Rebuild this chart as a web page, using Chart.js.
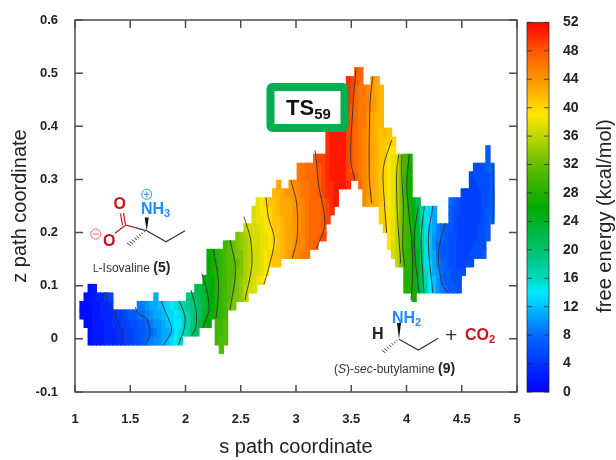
<!DOCTYPE html>
<html>
<head>
<meta charset="utf-8">
<title>Free energy surface</title>
<script src="https://cdn.jsdelivr.net/npm/chart.js@4"></script>
<style>
  html, body { margin: 0; padding: 0; background: #fff; }
  #wrap { position: relative; width: 616px; height: 460px; overflow: hidden; font-family: "Liberation Sans", Arial, sans-serif; filter: blur(0.45px); }
  #wrap canvas { position: absolute; top: 0; }
  #chart-main { left: 0; }
  #chart-bar { left: 516px; }
  #notes { position: absolute; left: 0; top: 0; }
  #notes text { font-family: "Liberation Sans", Arial, sans-serif; }
</style>
</head>
<body>
<div id="wrap">
  <canvas id="chart-main" width="616" height="460"></canvas>
  <canvas id="chart-bar" width="100" height="460"></canvas>
  <svg id="notes" width="616" height="460" viewBox="0 0 616 460">
    <!-- colour bar title -->
    <text transform="translate(611 216) rotate(-90)" text-anchor="middle" font-size="20" fill="#222">free energy (kcal/mol)</text>

    <!-- TS box -->
    <rect x="270.5" y="87" width="74" height="41" rx="2" fill="#fff" stroke="#00b050" stroke-width="8"/>
    <text x="286" y="115" font-size="22" font-weight="bold" fill="#111">TS<tspan font-size="15" dy="4">59</tspan></text>

    <!-- L-isovaline -->
    <g fill="none" stroke="#333" stroke-width="1.2">
      <path d="M136 227.8 L146.7 230.7 L166 241.7 L185 230.7"/>
    </g>
    <g fill="none" stroke="#c8141e" stroke-width="1.2">
      <path d="M125.7 225 L136 227.8 M125.7 225 L115 233.3 M123.5 213 L125.5 224.5 M120.5 213.5 L122.5 225"/>
    </g>
    <path d="M146.7 230.7 L144.7 217.5 L148.7 217.5 Z" fill="#111"/>
    <path d="M145 232 L143.7 231 M143 234 L141.3 232.7 M141 236 L138.9 234.4 M139 238 L136.5 236.1 M137 240 L134.1 237.9 M135 242 L131.7 239.6 M133 244 L129.3 241.3 M131 246 L127 243" stroke="#333" stroke-width="0.9" fill="none"/>
    <text x="113.5" y="209" font-size="16" font-weight="bold" fill="#c8141e">O</text>
    <text x="103" y="246" font-size="16" font-weight="bold" fill="#c8141e">O</text>
    <circle cx="95.7" cy="234" r="5" fill="none" stroke="#e36a70" stroke-width="1"/>
    <path d="M92.7 234 H98.7" stroke="#e36a70" stroke-width="1"/>
    <circle cx="146.7" cy="194.3" r="5" fill="none" stroke="#2e94f0" stroke-width="1"/>
    <path d="M143.7 194.3 H149.7 M146.7 191.3 V197.3" stroke="#2e94f0" stroke-width="1"/>
    <text x="141" y="214" font-size="16" font-weight="bold" fill="#1e8cf5">NH<tspan font-size="11" dy="3">3</tspan></text>
    <text x="93" y="272" font-size="12" fill="#333"><tspan font-size="10">L</tspan>-Isovaline <tspan font-size="14" font-weight="bold" fill="#222">(5)</tspan></text>

    <!-- sec-butylamine -->
    <path d="M399 339.3 L418.3 350 L438.3 338.3" fill="none" stroke="#333" stroke-width="1.2"/>
    <path d="M399 339.3 L397 323 L401 323 Z" fill="#111"/>
    <path d="M397.5 341 L396.3 340 M395.5 343 L393.9 341.7 M393.5 345 L391.5 343.4 M391.5 347 L389.1 345.1 M389.5 349 L386.7 346.8 M387.5 351 L384.3 348.5 M385.5 353 L381.9 350.2" stroke="#333" stroke-width="0.9" fill="none"/>
    <text x="372" y="339" font-size="16" font-weight="bold" fill="#222">H</text>
    <text x="392" y="323" font-size="16" font-weight="bold" fill="#1e8cf5">NH<tspan font-size="11" dy="3">2</tspan></text>
    <text x="445" y="342" font-size="21" fill="#333">+</text>
    <text x="465" y="340" font-size="16" font-weight="bold" fill="#c8141e">CO<tspan font-size="11" dy="3">2</tspan></text>
    <text x="334" y="373" font-size="12" fill="#333">(<tspan font-style="italic">S</tspan>)-<tspan font-style="italic">sec</tspan>-butylamine <tspan font-size="14" font-weight="bold" fill="#222">(9)</tspan></text>
  </svg>
</div>

<script>
// axis ticks
const sTicks = [1, 1.5, 2, 2.5, 3, 3.5, 4, 4.5, 5];
const zTicks = [-0.1, 0, 0.1, 0.2, 0.3, 0.4, 0.5, 0.6];
const energyTicks = [0, 4, 8, 12, 16, 20, 24, 28, 32, 36, 40, 44, 48, 52];

// s coordinate of each column of the map
const columnS = [
  1.064, 1.101, 1.138, 1.175, 1.212, 1.249, 1.286, 1.324, 1.361, 1.398,
  1.435, 1.472, 1.509, 1.546, 1.583, 1.620, 1.657, 1.695, 1.732, 1.769,
  1.806, 1.843, 1.880, 1.917, 1.954, 1.991, 2.028, 2.066, 2.103, 2.140,
  2.177, 2.214, 2.251, 2.288, 2.325, 2.362, 2.399, 2.437, 2.474, 2.511,
  2.548, 2.585, 2.622, 2.659, 2.696, 2.733, 2.770, 2.808, 2.845, 2.882,
  2.919, 2.956, 2.993, 3.030, 3.067, 3.104, 3.141, 3.179, 3.216, 3.253,
  3.290, 3.327, 3.364, 3.401, 3.438, 3.475, 3.512, 3.550, 3.587, 3.624,
  3.661, 3.698, 3.735, 3.772, 3.809, 3.846, 3.883, 3.921, 3.958, 3.995,
  4.032, 4.069, 4.106, 4.143, 4.180, 4.217, 4.254, 4.292, 4.329, 4.366,
  4.403, 4.440, 4.477, 4.514, 4.551, 4.588, 4.625, 4.663, 4.700, 4.737,
  4.774
];

// z edges of the map rows
const rowEdges = [
  -0.028, -0.012, 0.005, 0.021, 0.037, 0.054, 0.070, 0.086, 0.102, 0.119,
  0.135, 0.151, 0.168, 0.184, 0.200, 0.216, 0.233, 0.249, 0.265, 0.282,
  0.298, 0.314, 0.330, 0.347, 0.363, 0.379, 0.396, 0.412, 0.428, 0.444,
  0.461, 0.477, 0.493, 0.510
];

// index in rowEdges where each column starts
const columnFirstRow = [
  4, 3, 1, 1, 1, 1, 1, 1, 1, 1,
  1, 1, 1, 1, 1, 1, 1, 1, 1, 1,
  1, 1, 1, 1, 1, 2, 2, 2, 2, 3,
  3, 3, 4, 1, 0, 1, 5, 5, 6, 6,
  6, 7, 7, 8, 8, 9, 10, 10, 10, 11,
  11, 11, 11, 11, 11, 11, 12, 12, 13, 13,
  15, 16, 17, 19, 19, 19, 20, 20, 19, 17,
  17, 17, 17, 15, 14, 12, 11, 10, 10, 7,
  7, 6, 7, 7, 7, 7, 7, 7, 7, 7,
  7, 7, 7, 9, 10, 10, 11, 11, 11, 13,
  15
];

// free energy of each cell, column by column, from the lowest row up
const columnEnergy = [
  [1,1], [1,1,1,1], [1,1,1,1,1,1,1], [2,2,2,2,2,2,2],
  [2,2,2,2,2,3], [2,2,2,3,3,3], [3,3,3,3,3,4], [3,3,3,3,4,5],
  [3,3,4,4], [4,4,4,5], [4,4,5,5], [5,5,5,6], [5,5,6,7], [6,6,6,7],
  [6,6,7,8,9], [7,7,7,8,9], [8,7.5,8,9,10], [9,8,9,10,11],
  [10,9,10,11,11,11], [10,10,10,11,12], [11,11,11,12,12], [12,11,12,13,13],
  [13,12,13,13,14], [14,14,14,14,15], [16,15,14,15,16], [16,16,16,17],
  [17,17,17,18,19], [20,19,19,19,20], [21,20,20,20,21,22], [23,21,21,22,22],
  [25,24,23,23,24,25], [26,25,24,25,25,25,26,26,26], [27,26,26,26,26,27,27,27],
  [30,30,30,28,28,28,28,28,28,28,28],
  [31,31,30,30,29,29,29,29,29,29,29,29],
  [31,31,31,30,30,30,30,30,30,30,30,30],
  [32,31,31,31,31,31,31,31], [33,33,32,32,31,31,32,32],
  [33,33,33,33,32,33,33,33], [34,34,34,33,33,33,34,34],
  [36,36,35,35,35,35,35,35,36], [37,36,36,36,36,36,36,37],
  [37,37,37,37,37,37,37,37,37,37], [38,37,37,37,37,37,37,38,38,38],
  [39,38,38,38,38,38,38,38,39,39], [39,39,39,38,38,39,39,39,40],
  [40,40,39,39,39,40,40,41], [41,41,40,40,41,41,41,41,42],
  [41,41,41,41,41,41,42,42,42,43], [42,42,42,42,42,43,43,43],
  [43,43,43,43,43,43,43,44], [44,43,43,43,43,43,43,44,44],
  [45,44,44,44,44,44,44,44,45], [45,45,45,44,44,44,45,45,45,46,46],
  [46,45,45,45,45,45,45,46,46,46,46], [46,46,46,46,46,46,46,46,46,47,47],
  [47,47,47,47,47,47,47,47,47,47], [48,47,47,47,47,47,47,47,47,47,48],
  [48,47,47,47,47,48,48,48,48,49], [49,48,48,48,48,49,49,49,49,49],
  [49,49,49,50,50,50,50,50,50,50,50,50], [50,50,50,50,51,51,51,51,51,51,51],
  [51,51,51,51,51,51,51,51,51,51], [51,51,51,51,51,51,51,51],
  [51,51,51,51,51,51,51,51],
  [50,49,49,49,49,49,49,49,49,50,50,50,50],
  [49,48,48,48,48,48,48,48,48,49,49,49],
  [48,47,47,47,47,47,47,47,47,47,47,48,48],
  [47,46,46,46,46,46,46,46,46,46,46,46,47,47],
  [45,45,45,45,45,45,45,45,45,46,46,46,46,46],
  [43,44,44,44,44,44,44,44,44,44,44,45,45,45],
  [43,43,43,43,43,43,43,43,43,43,43,44,44,44,44],
  [42,42,42,42,42,42,42,42,42,42,42,43,43,43,43],
  [40,40,41,41,41,41,41,41,41,41,41,42,42,42,42,42],
  [41,41,40,40,40,40,40,40,41,41,41,42],
  [39,39,39,39,39,39,39,39,39,39,39,39,41,41],
  [37,37,38,38,38,38,38,38,38,38,38,38,39,40],
  [36,36,36,36,36,36,36,36,36,36,36,37,37],
  [33,33,33,33,33,33,33,33,33,33,33,33,33],
  [28,28,28,29,29,30,30,30,30,30,30,29,29,29,30,30],
  [28,28,28,29,29,29,29,29,28,28,27,27,27,27,27,28],
  [27,27,27,27,26,26,26,26,25,25,25,25],
  [24,24,24,24,24,23,23,23,22,22,22],
  [21,21,21,20,20,19,18,18,17,17],
  [17,17,16,15,15,15,15,15,15,15],
  [14,14,13,13,12,12,12,12,13,13],
  [12,12,11,11,11,10,10,11,11,11],
  [10,10,10,9,8,8,9,9], [9,8,8,8,7,7,8,8], [8,7,7,7,7,7,7,7],
  [7,7,7,6,6,6,6,7,7,7,8], [7,6,6,6,6,6,6,6,6,6,7], [6,6,6,5,5,5,5,5,5,6,6],
  [6,5,5,5,5,5,5,5,5,5], [6,5,5,5,5,5,5,5,5], [6,6,5,5,5,5,5,5,5,5,5],
  [6,6,5,5,5,5,5,5,5,6,6], [6,6,6,6,5,5,5,5,6,6,6], [7,6,6,6,6,6,6,6,6,6,6],
  [7,7,7,7,6,6,6,6,7,7,7], [8,7,7,7,7,7,8]
];

// contour lines as [s, z] points
const contourLines = [
  [[1.281,0.088],[1.296,0.070],[1.347,0.055],[1.392,0.030],[1.428,0.011],[1.416,-0.011]],
  [[1.543,0.060],[1.573,0.048],[1.654,0.036],[1.679,0.008],[1.633,-0.011]],
  [[1.778,0.071],[1.824,0.048],[1.875,0.017],[1.805,-0.011]],
  [[1.944,0.071],[1.995,0.042],[1.986,0.017],[1.935,-0.011]],
  [[2.050,0.092],[2.095,0.055],[2.095,0.023],[2.056,0.006]],
  [[2.147,0.123],[2.192,0.092],[2.213,0.055],[2.156,0.021]],
  [[2.252,0.169],[2.297,0.111],[2.294,0.073],[2.276,0.039]],
  [[2.403,0.186],[2.454,0.130],[2.403,0.055]],
  [[2.529,0.230],[2.590,0.186],[2.599,0.136],[2.538,0.073]],
  [[2.729,0.266],[2.749,0.230],[2.804,0.186],[2.749,0.130],[2.710,0.103]],
  [[2.952,0.299],[3.006,0.255],[3.012,0.192],[2.967,0.152]],
  [[3.172,0.355],[3.187,0.330],[3.202,0.293],[3.262,0.217],[3.187,0.170]],
  [[3.543,0.507],[3.513,0.430],[3.495,0.336],[3.534,0.298]],
  [[3.694,0.493],[3.670,0.443],[3.663,0.305],[3.685,0.255]],
  [[3.866,0.374],[3.790,0.321],[3.805,0.242],[3.821,0.199]],
  [[3.929,0.346],[3.911,0.311],[3.917,0.236],[3.948,0.142]],
  [[3.959,0.346],[3.957,0.311],[3.971,0.249],[3.966,0.167],[3.986,0.136]],
  [[4.025,0.347],[4.002,0.293],[4.016,0.249],[4.047,0.186],[4.056,0.123],[4.041,0.073]],
  [[4.107,0.249],[4.068,0.186],[4.107,0.098],[4.116,0.087]],
  [[4.161,0.249],[4.131,0.186],[4.147,0.123],[4.158,0.087]],
  [[4.237,0.249],[4.197,0.186],[4.237,0.087]],
  [[4.348,0.217],[4.288,0.161],[4.319,0.105],[4.373,0.087]],
  [[4.780,0.330],[4.792,0.261],[4.780,0.217]]
];

// palette stops: energy, r, g, b
const paletteStops = [
  [0, 0, 0, 255],
  [4, 0, 50, 255],
  [8, 0, 105, 255],
  [12, 0, 190, 255],
  [14, 0, 235, 255],
  [16, 0, 215, 190],
  [20, 0, 195, 110],
  [26, 0, 170, 0],
  [32, 100, 190, 0],
  [36, 190, 215, 0],
  [39, 255, 230, 0],
  [44, 255, 150, 0],
  [48, 255, 90, 0],
  [52, 255, 0, 0]
];

function energyColor(e) {
  let i = 0;
  while (i < paletteStops.length - 2 && e > paletteStops[i + 1][0]) i++;
  const a = paletteStops[i], b = paletteStops[i + 1];
  const t = (e - a[0]) / (b[0] - a[0]);
  const c = [1, 2, 3].map(j => Math.round(a[j] + (b[j] - a[j]) * t));
  return 'rgb(' + c.join(',') + ')';
}

const FONT = '"Liberation Sans", Arial, sans-serif';
const FRAME = '#4d4d4d';

function buildCells() {
  const cells = [], colors = [];
  columnS.forEach((s, i) => {
    columnEnergy[i].forEach((e, j) => {
      const lo = rowEdges[columnFirstRow[i] + j];
      const hi = rowEdges[columnFirstRow[i] + j + 1];
      cells.push({ x: s, y: [lo, hi + 0.0008] });
      colors.push(energyColor(e));
    });
  });
  return { cells, colors };
}

// gnuplot style frame, ticks point into the plot
const framePlugin = {
  id: 'frame',
  afterDatasetsDraw(chart) {
    const { ctx, chartArea: a, scales } = chart;
    ctx.save();
    ctx.strokeStyle = FRAME;
    ctx.lineWidth = 1.5;
    ctx.strokeRect(a.left, a.top, a.right - a.left, a.bottom - a.top);
    ctx.beginPath();
    scales.x.ticks.forEach(t => {
      const x = scales.x.getPixelForValue(t.value);
      ctx.moveTo(x, a.bottom); ctx.lineTo(x, a.bottom - 7);
      ctx.moveTo(x, a.top); ctx.lineTo(x, a.top + 8);
    });
    scales.y.ticks.forEach(t => {
      const y = scales.y.getPixelForValue(t.value);
      ctx.moveTo(a.left, y); ctx.lineTo(a.left + 8, y);
      ctx.moveTo(a.right, y); ctx.lineTo(a.right - 8, y);
    });
    ctx.stroke();
    ctx.restore();
  }
};

const barFramePlugin = {
  id: 'barFrame',
  afterDatasetsDraw(chart) {
    const { ctx, chartArea: a, scales } = chart;
    ctx.save();
    ctx.strokeStyle = 'rgba(40,40,40,0.75)';
    ctx.lineWidth = 1;
    ctx.strokeRect(a.left, a.top, a.right - a.left, a.bottom - a.top);
    ctx.beginPath();
    scales.y.ticks.forEach(t => {
      const y = scales.y.getPixelForValue(t.value);
      ctx.moveTo(a.left, y); ctx.lineTo(a.left + 5, y);
      ctx.moveTo(a.right, y); ctx.lineTo(a.right - 5, y);
    });
    ctx.stroke();
    ctx.restore();
  }
};

function renderMain() {
  const { cells, colors } = buildCells();
  const lines = contourLines.map(pts => ({
    type: 'line',
    data: pts.map(p => ({ x: p[0], y: p[1] })),
    borderColor: '#333',
    borderWidth: 0.9,
    pointRadius: 0,
    tension: 0.3,
    fill: false,
    order: 0
  }));

  new Chart(document.getElementById('chart-main'), {
    type: 'bar',
    data: {
      datasets: [{
        data: cells,
        backgroundColor: colors,
        borderWidth: 0,
        barThickness: 4.7,
        order: 1
      }, ...lines]
    },
    options: {
      responsive: false,
      animation: false,
      layout: { padding: { top: 20, right: 99, left: 0, bottom: 0 } },
      plugins: { legend: { display: false }, tooltip: { enabled: false } },
      scales: {
        x: {
          type: 'linear',
          offset: false,
          min: 1, max: 5,
          afterBuildTicks(scale) { scale.ticks = sTicks.map(v => ({ value: v })); },
          afterFit(scale) { scale.height = 68; },
          grid: { display: false },
          border: { display: false },
          ticks: {
            padding: 12,
            color: '#222',
            maxRotation: 0,
            font: { family: FONT, size: 13, weight: 'bold' },
            callback: v => String(+v.toFixed(1))
          },
          title: {
            display: true,
            text: 's path coordinate',
            color: '#222',
            padding: { top: 0, bottom: 1 },
            font: { family: FONT, size: 20 }
          }
        },
        y: {
          min: -0.1, max: 0.6,
          afterBuildTicks(scale) { scale.ticks = zTicks.map(v => ({ value: v })); },
          afterFit(scale) { scale.width = 75; },
          grid: { display: false },
          border: { display: false },
          ticks: {
            padding: 9,
            color: '#222',
            font: { family: FONT, size: 13, weight: 'bold' },
            callback: v => String(+v.toFixed(1))
          },
          title: {
            display: true,
            text: 'z path coordinate',
            color: '#222',
            padding: { top: 8, bottom: 0 },
            font: { family: FONT, size: 20 }
          }
        }
      }
    },
    plugins: [framePlugin]
  });
}

function renderColorBar() {
  const steps = [], stepColors = [];
  for (let e = 0; e < 52; e += 0.25) {
    steps.push({ x: 0.5, y: [e, e + 0.3] });
    stepColors.push(energyColor(e + 0.125));
  }

  new Chart(document.getElementById('chart-bar'), {
    type: 'bar',
    data: {
      datasets: [{ data: steps, backgroundColor: stepColors, borderWidth: 0, barThickness: 22 }]
    },
    options: {
      responsive: false,
      animation: false,
      layout: { padding: { top: 20, bottom: 68, left: 11, right: 0 } },
      plugins: { legend: { display: false }, tooltip: { enabled: false } },
      scales: {
        x: { type: 'linear', min: 0, max: 1, offset: false, display: false },
        y: {
          position: 'right',
          min: 0, max: 52,
          afterBuildTicks(scale) { scale.ticks = energyTicks.map(v => ({ value: v })); },
          afterFit(scale) { scale.width = 67; },
          grid: { display: false, drawTicks: false },
          border: { display: false },
          ticks: {
            padding: 14,
            color: '#222',
            font: { family: FONT, size: 14, weight: 'bold' }
          }
        }
      }
    },
    plugins: [barFramePlugin]
  });
}

renderMain();
renderColorBar();
</script>
</body>
</html>
